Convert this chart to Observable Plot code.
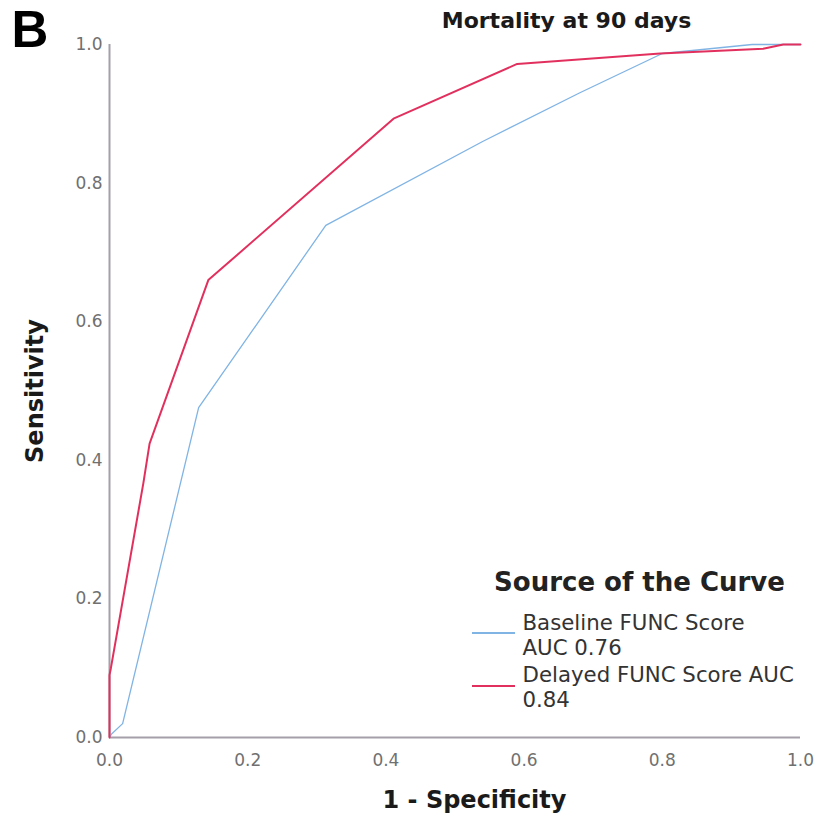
<!DOCTYPE html>
<html><head><meta charset="utf-8">
<script src="https://cdn.jsdelivr.net/npm/d3@7"></script>
<script src="https://cdn.jsdelivr.net/npm/@observablehq/plot@0.6"></script>
<style>
body{margin:0;background:#fff;}
#wrap{position:relative;width:825px;height:829px;}
.sw{position:absolute;}
</style></head><body><div id="wrap"></div>
<script>
// Baseline FUNC Score ROC curve
const baseFpr = [0, 0.003, 0.019, 0.129, 0.313, 0.54, 0.68, 0.80, 0.93, 1.0];
const baseTpr = [0, 0.005, 0.02, 0.476, 0.739, 0.86, 0.93, 0.987, 1.0, 1.0];
// Delayed FUNC Score ROC curve
const delFpr = [0, 0.0, 0.002, 0.049, 0.058, 0.143, 0.411, 0.59, 0.797, 0.946, 0.975, 1.0];
const delTpr = [0, 0.09, 0.10, 0.367, 0.424, 0.66, 0.893, 0.972, 0.987, 0.994, 1.0, 1.0];
const ticks = [0, 0.2, 0.4, 0.6, 0.8, 1.0];
const seriesNames = ["Baseline FUNC Score", "Delayed FUNC Score"];
const seriesColors = ["#80b4e4", "#e2305e"];
const legendLines = [["Baseline FUNC Score", "AUC 0.76"], ["Delayed FUNC Score AUC", "0.84"]];

const base = baseFpr.map((x, i) => ({x, y: baseTpr[i]}));
const del = delFpr.map((x, i) => ({x, y: delTpr[i]}));

const F = "DejaVu Sans";
const T = (txt, o) => Plot.text([txt], {lineAnchor: "middle", fontFamily: F, fill: "#1a1a1a", ...o});
const chart = Plot.plot({
  width: 825, height: 829,
  marginLeft: 109, marginRight: 25, marginTop: 44, marginBottom: 92,
  style: {fontFamily: "DejaVu Sans", fontSize: "17px", color: "#707070", background: "#fff"},
  x: {domain: [0, 1], ticks, tickFormat: d3.format(".1f"), tickSize: 0, tickPadding: 16, label: null},
  y: {domain: [0, 1], ticks, tickFormat: d3.format(".1f"), tickSize: 0, tickPadding: 7, label: null},
  marks: [
    Plot.ruleX([0], {stroke: "#a49fa8", strokeWidth: 2}),
    Plot.ruleY([0], {stroke: "#a49fa8", strokeWidth: 2}),
    Plot.line(base, {x: "x", y: "y", stroke: seriesColors[0], strokeWidth: 1.3}),
    Plot.line(del, {x: "x", y: "y", stroke: seriesColors[1], strokeWidth: 2}),
    T("B", {frameAnchor: "top-left", dx: -98, dy: -13.5, textAnchor: "start", fontFamily: "Liberation Sans", fontWeight: "bold", fontSize: 51, fill: "#000"}),
    T("Mortality at 90 days", {frameAnchor: "top-left", dx: 457, dy: -24, textAnchor: "middle", fontWeight: "bold", fontSize: 22}),
    T("1 - Specificity", {frameAnchor: "bottom-left", dx: 365, dy: 63, textAnchor: "middle", fontWeight: "bold", fontSize: 24}),
    T("Sensitivity", {frameAnchor: "left", dx: -74, dy: 0, rotate: -90, textAnchor: "middle", fontWeight: "bold", fontSize: 24}),
    T("Source of the Curve", {frameAnchor: "top-left", dx: 530, dy: 538, textAnchor: "middle", fontWeight: "bold", fontSize: 26, fill: "#222"}),
    T(legendLines[0][0], {frameAnchor: "top-left", dx: 413, dy: 579, textAnchor: "start", fontSize: 21.3, fill: "#333"}),
    T(legendLines[0][1], {frameAnchor: "top-left", dx: 413, dy: 604, textAnchor: "start", fontSize: 21.3, fill: "#333"}),
    T(legendLines[1][0], {frameAnchor: "top-left", dx: 413, dy: 631, textAnchor: "start", fontSize: 21.3, fill: "#333"}),
    T(legendLines[1][1], {frameAnchor: "top-left", dx: 413, dy: 656, textAnchor: "start", fontSize: 21.3, fill: "#333"})
  ]
});
const wrap = document.getElementById("wrap");
wrap.appendChild(chart);
// legend swatches
[{top: 632, c: seriesColors[0], h: 1.5}, {top: 685, c: seriesColors[1], h: 2}].forEach(s => {
  const d = document.createElement("div");
  d.className = "sw";
  d.style.left = "472px"; d.style.top = s.top + "px"; d.style.width = "43px";
  d.style.height = s.h + "px"; d.style.background = s.c;
  wrap.appendChild(d);
});
</script></body></html>
